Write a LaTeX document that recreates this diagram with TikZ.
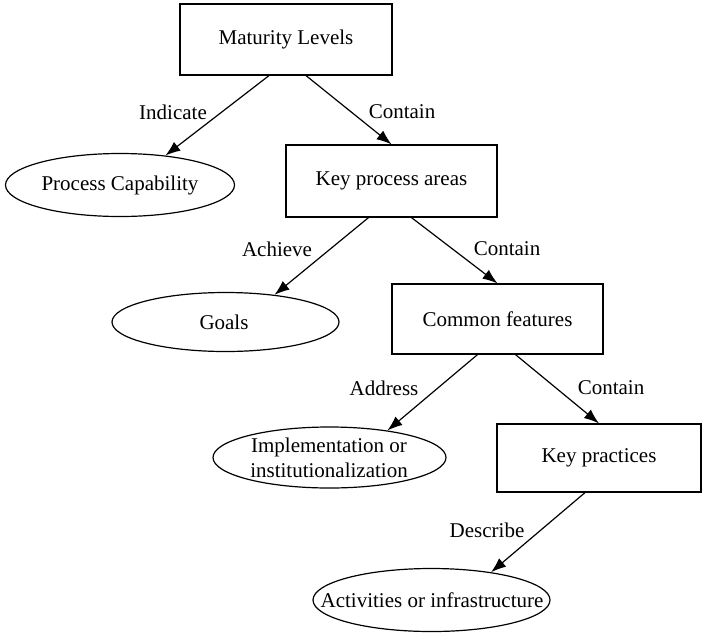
\documentclass[tikz,border=0pt]{standalone}
\usepackage{fontspec}
\setmainfont{Liberation Serif}
\usetikzlibrary{arrows.meta,shapes.geometric}
\tikzset{
  box/.style={draw, line width=1.2pt, rectangle, inner sep=0pt, font=\fontsize{21}{25}\selectfont},
  oval/.style={draw, line width=1.2pt, ellipse, inner sep=0pt},
  txt/.style={inner sep=0pt, font=\fontsize{21}{25}\selectfont, align=center},
  lbl/.style={inner sep=0pt, font=\fontsize{21}{25}\selectfont},
  arr/.style={line width=1.2pt, -{Latex[length=15pt,width=11pt]}}
}
\begin{document}
\begin{tikzpicture}[x=1pt,y=-1pt]
\useasboundingbox (0,0) rectangle (703,632);
% boxes
\node[box, minimum width=212pt, minimum height=71pt] (ml) at (286,39.5) {Maturity Levels};
\node[box, minimum width=211pt, minimum height=72pt] (kpa) at (391.5,181) {Key process areas};
\node[box, minimum width=211pt, minimum height=70pt] (cf) at (497.5,319) {Common features};
\node[box, minimum width=204pt, minimum height=68pt] (kp) at (599,458) {Key practices};
% ellipses
\node[oval, minimum width=229pt, minimum height=63pt] (pc) at (120,185) {};
\node[txt] (pcT) at (120,185) {Process Capability};
\node[oval, minimum width=227pt, minimum height=59pt] (goals) at (225.5,322) {};
\node[txt] (goalsT) at (224,322) {Goals};
\node[oval, minimum width=233pt, minimum height=61pt] (impl) at (329.5,457.5) {};
\node[txt] (implT) at (329,458) {Implementation or\\institutionalization};
\node[oval, minimum width=237pt, minimum height=63pt] (act) at (431.5,600) {};
\node[txt] (actT) at (432,600) {Activities or infrastructure};
% connectors
\draw[arr] ([xshift=-17pt]ml.south) -- (pc.33);
\draw[arr] ([xshift=20pt]ml.south) -- (kpa.north);
\draw[arr] ([xshift=-23pt]kpa.south) -- (goals.29);
\draw[arr] ([xshift=20pt]kpa.south) -- (cf.north);
\draw[arr] ([xshift=-20pt]cf.south) -- (impl.25);
\draw[arr] ([xshift=18pt]cf.south) -- (kp.north);
\draw[arr] ([xshift=-14pt]kp.south) -- (act.25);
% labels
\node[lbl] (l1) at (173,112) {Indicate};
\node[lbl] (l2) at (402,112) {Contain};
\node[lbl] (l3) at (277,249) {Achieve};
\node[lbl] (l4) at (507,249) {Contain};
\node[lbl] (l5) at (384,388) {Address};
\node[lbl] (l6) at (611,388) {Contain};
\node[lbl] (l7) at (487,530) {Describe};
\end{tikzpicture}
\end{document}
